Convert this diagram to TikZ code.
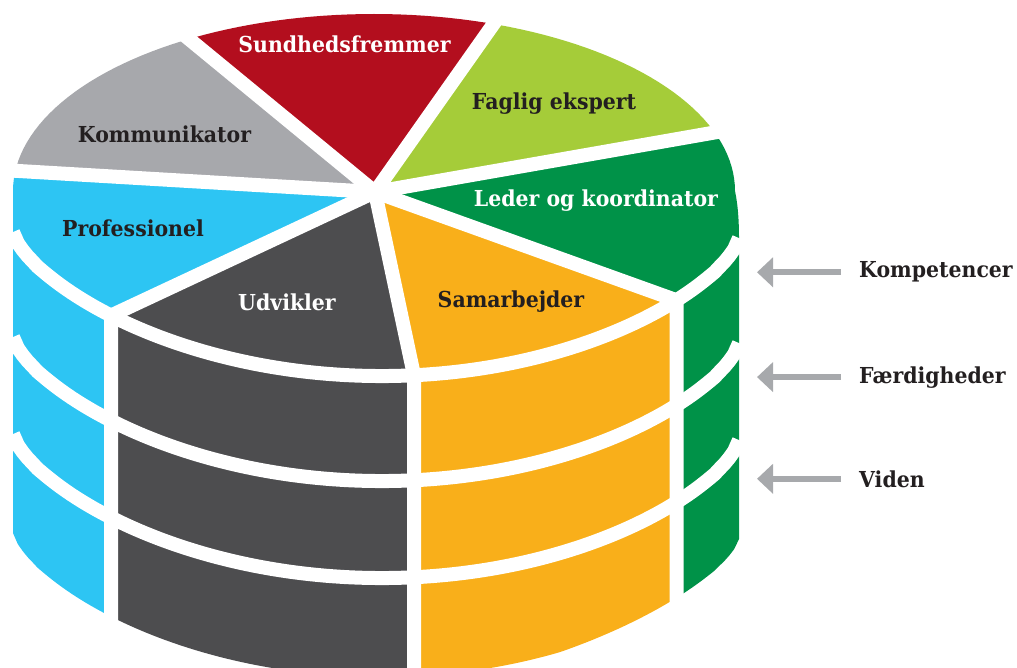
\documentclass[tikz,border=0pt]{standalone}
\usepackage{fontspec}
\setmainfont{DejaVu Serif}[FakeStretch=0.93]
\usetikzlibrary{arrows.meta}
\definecolor{cRed}{RGB}{179,14,30}
\definecolor{cLime}{RGB}{165,204,57}
\definecolor{cGreen}{RGB}{0,146,72}
\definecolor{cOrange}{RGB}{249,175,26}
\definecolor{cDark}{RGB}{77,77,79}
\definecolor{cBlue}{RGB}{45,197,243}
\definecolor{cGrey}{RGB}{167,168,172}
\definecolor{cArrow}{RGB}{167,169,172}
\definecolor{cText}{RGB}{35,31,32}
\begin{document}
\begin{tikzpicture}[x=1pt,y=-1pt,
  declare function={uu(\x)=(\x-376)/363; ff(\x)=(max(1-uu(\x)*uu(\x),0.00001))^0.7; sepA(\x)=232+6*(\x-13)/726+141*ff(\x);},
  lbl/.style={font=\fontsize{22}{26}\selectfont\bfseries, inner sep=0pt, anchor=base},
  rlbl/.style={lbl, anchor=base west, text=cText},
  gap/.style={draw=white, line width=14pt, line join=round},
  arr/.style={draw=cArrow, line width=6pt, -{Triangle[length=16pt,width=29pt]}}]
\useasboundingbox (0,0) rectangle (1017,668);
\coordinate (c) at (375,192);
\coordinate (pGR) at (20,-100);
\coordinate (pRL) at (581,-100);
\coordinate (pLG) at (900,100);
\coordinate (pBG) at (-100,164);
\coordinate (pDB) at (111,{sepA(111)});
\coordinate (pOD) at (414,{sepA(414)});
\coordinate (pGO) at (676.5,{sepA(676.5)});
\begin{scope}
  \clip plot[domain=180:0,samples=91,variable=\t] ({374+361*cos(\t)},{191-177*sin(\t)})
     .. controls (738,205) and (739,222) .. (739,238)
     -- plot[domain=739:13,samples=150,variable=\x] (\x,{sepA(\x)+301-12*ff(\x)*(\x>560)*(\x-560)/179}) -- cycle;
  \fill[cGrey] (c) -- (pGR) -- (-100,-100) -- (pBG) -- cycle;
  \fill[cRed] (c) -- (pRL) -- (pGR) -- cycle;
  \fill[cLime] (c) -- (pLG) -- (900,-100) -- (pRL) -- cycle;
  \fill[cGreen] (c) -- (pGO) -- (676.5,800) -- (900,800) -- (pLG) -- cycle;
  \fill[cOrange] (c) -- (pOD) -- (414,800) -- (676.5,800) -- (pGO) -- cycle;
  \fill[cDark] (c) -- (pDB) -- (111,800) -- (414,800) -- (pOD) -- cycle;
  \fill[cBlue] (c) -- (pBG) -- (-100,800) -- (111,800) -- (pDB) -- cycle;
\end{scope}
% white gaps
\draw[gap] plot[domain=13:739,samples=150,variable=\x] (\x,{sepA(\x)});
\draw[gap] plot[domain=13:739,samples=150,variable=\x] (\x,{sepA(\x)+105});
\draw[gap] plot[domain=13:739,samples=150,variable=\x] (\x,{sepA(\x)+202});
\draw[gap] (c) -- (pGR);
\draw[gap] (c) -- (pRL);
\draw[gap] (c) -- (pLG);
\draw[gap] (c) -- (pBG);
\draw[gap] (c) -- (pDB) -- (111,800);
\draw[gap] (c) -- (pOD) -- (414,800);
\draw[gap] (c) -- (pGO) -- (676.5,800);
% labels
\node[lbl,text=white] (sund) at (344.5,53) {Sundhedsfremmer};
\node[lbl,text=cText] (komm) at (164.5,143) {Kommunikator};
\node[lbl,text=cText] (fagl) at (554,110) {Faglig ekspert};
\node[lbl,text=white] (lede) at (596,207) {Leder og koordinator};
\node[lbl,text=cText] (prof) at (133,237) {Professionel};
\node[lbl,text=white] (udvi) at (287,310) {Udvikler};
\node[lbl,text=cText] (sama) at (511,308) {Samarbejder};
\node[rlbl] (komp) at (859,278) {Kompetencer};
\node[rlbl] (faer) at (859,383) {Færdigheder};
\node[rlbl] (vide) at (859,487) {Viden};
\coordinate (tipx) at (757,0);
\draw[arr,shorten <=18pt] (komp.west) -- (komp.west -| tipx);
\draw[arr,shorten <=18pt] (faer.west) -- (faer.west -| tipx);
\draw[arr,shorten <=18pt] (vide.west) -- (vide.west -| tipx);
\end{tikzpicture}
\end{document}
